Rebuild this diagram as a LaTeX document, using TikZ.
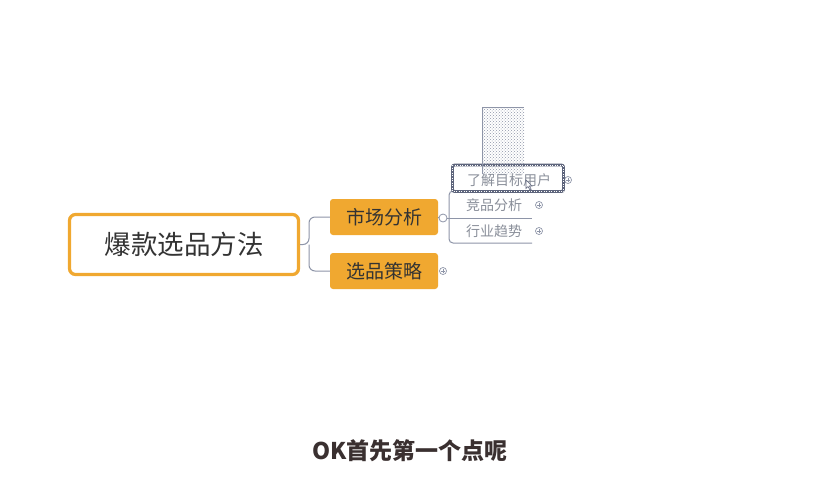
\documentclass[tikz,border=0pt]{standalone}
\usepackage{fontspec}
\newfontfamily\cjk{Noto Sans CJK SC}
\usetikzlibrary{patterns}
\definecolor{orng}{HTML}{F0A830}
\definecolor{lnc}{HTML}{8E95A8}
\definecolor{txg}{HTML}{8A8F9A}
\definecolor{txd}{HTML}{333333}
\definecolor{selc}{HTML}{5E657C}
\definecolor{capc}{HTML}{3A3030}
\tikzset{
  rootbox/.style={draw=orng, line width=3.2pt, fill=white, rounded corners=6pt,
    minimum width=229pt, minimum height=60pt, inner sep=0pt,
    font=\cjk\fontsize{26.5}{30}\selectfont, text=txd},
  mainbox/.style={fill=orng, rounded corners=3pt, minimum width=108pt,
    minimum height=36pt, inner sep=0pt,
    font=\cjk\fontsize{19}{23}\selectfont, text=txd},
  subtext/.style={inner sep=0pt, font=\cjk\fontsize{14}{17}\selectfont, text=txg},
  conn/.style={draw=lnc, line width=1pt},
  plusicon/.style={circle, draw=lnc, line width=0.7pt, fill=white,
    minimum size=7pt, inner sep=0pt,
    path picture={\draw[lnc, line width=0.6pt]
      ([xshift=-2pt]path picture bounding box.center) -- ([xshift=2pt]path picture bounding box.center)
      ([yshift=-2pt]path picture bounding box.center) -- ([yshift=2pt]path picture bounding box.center);}},
  collapse/.style={circle, draw=lnc, line width=0.8pt, fill=white,
    minimum size=8pt, inner sep=0pt},
  capt/.style={inner sep=0pt, font=\cjk\bfseries\fontsize{23}{27}\selectfont, text=capc}
}
\begin{document}
\begin{tikzpicture}[x=1pt, y=-1pt]
\useasboundingbox (0,0) rectangle (820,480);
\fill[white] (0,0) rectangle (820,480);

% root and main branches
\node[rootbox] (root) at (184,244.5) {爆款选品方法};
\node[mainbox] (m1) at (384,217) {市场分析};
\node[mainbox] (m2) at (384,271) {选品策略};

\coordinate (rj) at (309,244.5);
\draw[conn, rounded corners=6pt] (root.east) -- (rj) |- (m1.west);
\draw[conn, rounded corners=6pt] (rj) |- (m2.west);

% collapse circle and children
\node[collapse] (cc) at (443,218) {};
\draw[conn] (m1.east) -- (cc.west);

\node[subtext] (c1) at (509,180) {了解目标用户};
\node[subtext] (c2) at (494,205) {竞品分析};
\node[subtext] (c3) at (494,231) {行业趋势};

\coordinate (u1r) at (540,191);
\coordinate (u2r) at (532,218);
\coordinate (u3r) at (532,243);
\coordinate (vj) at (449,218);
\draw[conn] (cc.east) -- (u2r);
\draw[conn, rounded corners=4pt] (u1r) -| (vj) |- (u3r);

% expand icons
\node[plusicon] (p1) at (568,180) {};
\node[plusicon] (p2) at (539,205) {};
\node[plusicon] (p3) at (539,231) {};
\node[plusicon] (p4) at (443,271) {};

% selection frame around first child
\draw[selc, line width=2.8pt, rounded corners=2pt] (452.5,165) rectangle (563.5,191.5);
\draw[white, line width=0.5pt, dotted] (452.5,165) rectangle (563.5,191.5);

% drag ghost
\path[fill=lnc!25, pattern=crosshatch dots, pattern color=lnc] (482,107) rectangle (524,174);
\draw[lnc, line width=0.8pt] (482,174) -- (482,107) -- (524,107);

% cursor
\draw[fill=white, draw=selc, line width=0.6pt] (526,180) -- (526,188.5) -- (528,186.5) -- (530,190) -- (531.2,189.3) -- (529.4,186) -- (532,186) -- cycle;

% caption
\node[capt] (cap) at (410,451) {OK首先第一个点呢};
\end{tikzpicture}
\end{document}
